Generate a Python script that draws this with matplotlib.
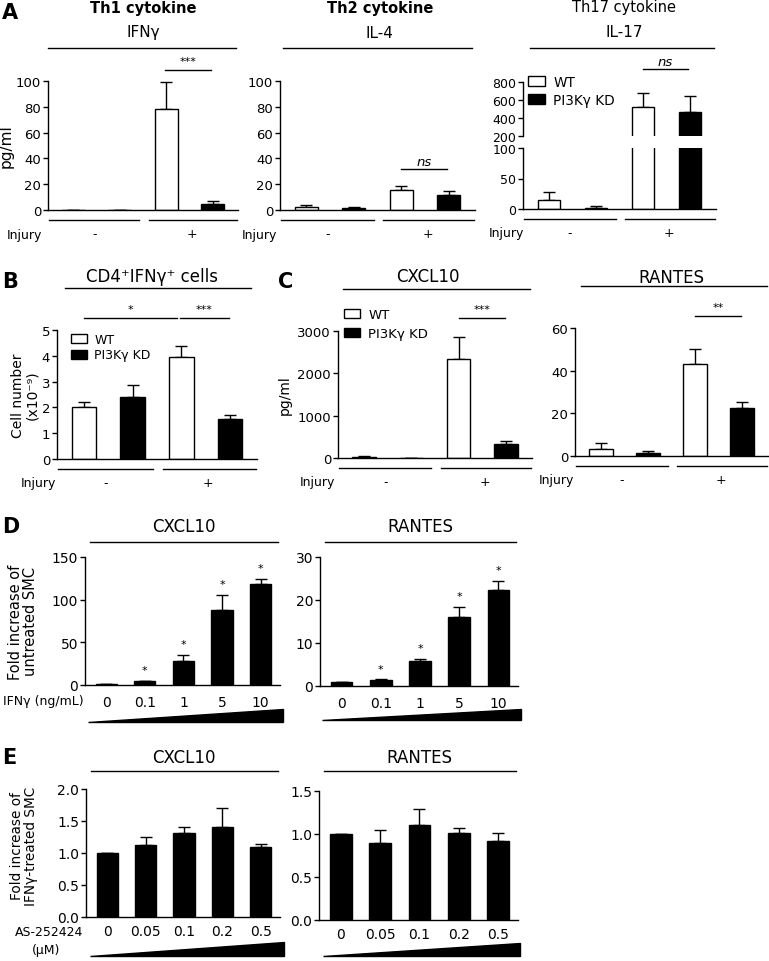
import numpy as np
import matplotlib.pyplot as plt
from matplotlib.patches import Patch
from matplotlib.transforms import blended_transform_factory

W, H = 769, 962

# ---- data (bar order: WT -, KD -, WT +, KD +) ----
bar_colors = ["white", "black", "white", "black"]
ifng_mean = [0, 0, 78, 4.5]
ifng_err = [0, 0, 21, 2.5]
il4_mean = [2, 1.2, 15.7, 11.6]
il4_err = [2, 1.5, 3.1, 3.4]
il17_mean = [14, 2, 524, 470]
il17_err = [14, 3.3, 153, 170]
cd4_mean = [2.0, 2.39, 3.94, 1.55]
cd4_err = [0.22, 0.48, 0.45, 0.17]
cxcl10_mean = [30, 5, 2336, 330]
cxcl10_err = [15, 3, 520, 70]
rantes_mean = [3.1, 1.6, 43.2, 22.7]
rantes_err = [3.1, 0.7, 6.8, 2.8]

# IFNg dose response (D)
ifn_doses = ["0", "0.1", "1", "5", "10"]
d_cxcl10 = [1, 4.5, 28.5, 88, 118]
d_cxcl10_err = [0, 0.7, 7, 17.5, 6.5]
d_rantes = [1, 1.4, 5.8, 16, 22.3]
d_rantes_err = [0, 0.15, 0.5, 2.4, 2.2]
d_signif = [False, True, True, True, True]

# AS-252424 dose response (E)
as_doses = ["0", "0.05", "0.1", "0.2", "0.5"]
e_cxcl10 = [1.0, 1.125, 1.31, 1.40, 1.10]
e_cxcl10_err = [0, 0.125, 0.09, 0.30, 0.04]
e_rantes = [1.0, 0.90, 1.11, 1.01, 0.92]
e_rantes_err = [0, 0.15, 0.18, 0.06, 0.09]

fig = plt.figure(figsize=(W / 100, H / 100), dpi=100)


def add_ax(l, t, r, b):
    return fig.add_axes([l / W, 1 - b / H, (r - l) / W, (b - t) / H])


def px(ax, n):
    # n pixels -> axes fraction (vertical)
    return n / (ax.get_position().height * H)


def pxw(ax, n):
    return n / (ax.get_position().width * W)


def blend(ax):
    return blended_transform_factory(ax.transData, ax.transAxes)


def style(ax, fs=9.5):
    for s in ["top", "right"]:
        ax.spines[s].set_visible(False)
    ax.spines["left"].set_linewidth(1)
    ax.spines["bottom"].set_linewidth(1)
    ax.tick_params(axis="y", length=3.5, width=1, pad=1.5, labelsize=fs)
    ax.tick_params(axis="x", length=0)


def bars(ax, means, errs, colors, width):
    x = np.arange(len(means))
    ax.bar(x, means, width, color=colors, edgecolor="black", linewidth=1, zorder=2)
    ax.errorbar(x, means, yerr=[np.zeros(len(errs)), errs], fmt="none",
                ecolor="black", elinewidth=1, capsize=4, capthick=1, zorder=1)
    return x


def injury(ax, left_x=-1.35):
    tr = blend(ax)
    y = -px(ax, 10)
    for x0, x1 in [(-0.52, 1.42), (1.62, 3.52)]:
        ax.plot([x0, x1], [y, y], color="black", lw=1, transform=tr, clip_on=False)
    yl = -px(ax, 24)
    ax.text(left_x, yl, "Injury", transform=tr, ha="left", va="center", fontsize=9)
    ax.text(0.45, yl, "-", transform=tr, ha="center", va="center", fontsize=9)
    ax.text(2.55, yl, "+", transform=tr, ha="center", va="center", fontsize=9)


def top_text(ax, x, dy, s, **kw):
    ax.text(x, 1 + px(ax, dy), s, transform=blend(ax), ha="center", va="center", **kw)


def top_line(ax, x0, x1, dy):
    y = 1 + px(ax, dy)
    ax.plot([x0, x1], [y, y], color="black", lw=1, transform=blend(ax), clip_on=False)


def sig(ax, x0, x1, y, label, ns=False):
    ax.plot([x0, x1], [y, y], color="black", lw=1, clip_on=False)
    if ns:
        ax.annotate(label, ((x0 + x1) / 2, y), xytext=(0, 3), textcoords="offset points",
                    ha="center", va="baseline", fontsize=9.5, style="italic",
                    annotation_clip=False)
    else:
        ax.annotate(label, ((x0 + x1) / 2, y), xytext=(0, 4.5), textcoords="offset points",
                    ha="center", va="baseline", fontsize=8, annotation_clip=False)


def legend(ax, x, y, fs, spacing):
    handles = [Patch(facecolor="white", edgecolor="black", linewidth=1, label="WT"),
               Patch(facecolor="black", edgecolor="black", linewidth=1, label="PI3K\u03b3 KD")]
    ax.legend(handles=handles, loc="upper left", bbox_to_anchor=(x, y), frameon=False,
              fontsize=fs, borderpad=0, borderaxespad=0, handlelength=1.25,
              handleheight=0.75, handletextpad=0.6, labelspacing=spacing)


def wedge(ax, x0, x1, dy_bot, dy_top):
    yb, yt = -px(ax, dy_bot), -px(ax, dy_top)
    ax.fill([x0, x1, x1], [yb, yb, yt], color="black", transform=blend(ax), clip_on=False)


# ================= A =================
ax = add_ax(48, 82, 238, 211)
style(ax)
bars(ax, ifng_mean, ifng_err, bar_colors, 0.5)
ax.set_xlim(-0.55, 3.55)
ax.set_ylim(0, 100)
ax.set_yticks(range(0, 101, 20))
ax.set_xticks([])
ax.set_ylabel("pg/ml", fontsize=11)
ax.yaxis.set_label_coords(-pxw(ax, 34), 0.5)
injury(ax, -1.44)
top_line(ax, -0.55, 3.5, 33)
top_text(ax, 1.5, 49, "IFN\u03b3", fontsize=11)
top_text(ax, 1.5, 74, "Th1 cytokine", fontsize=10.5, fontweight="bold")
sig(ax, 1.98, 2.97, 108.5, "***")

ax = add_ax(280, 82, 475, 211)
style(ax)
bars(ax, il4_mean, il4_err, bar_colors, 0.48)
ax.set_xlim(-0.55, 3.55)
ax.set_ylim(0, 100)
ax.set_yticks(range(0, 101, 20))
ax.set_xticks([])
injury(ax)
top_line(ax, -0.48, 3.48, 33)
top_text(ax, 1.55, 49, "IL-4", fontsize=11)
top_text(ax, 1.55, 74, "Th2 cytokine", fontsize=10.5, fontweight="bold")
sig(ax, 2.0, 2.96, 31.8, "ns", ns=True)

# IL-17 with broken y axis
ax_top = add_ax(523, 83, 716, 137)
ax_bot = add_ax(523, 149, 716, 210)
for a in (ax_top, ax_bot):
    style(a, fs=9)
    bars(a, il17_mean, il17_err, bar_colors, 0.48)
    a.set_xlim(-0.55, 3.55)
    a.set_xticks([])
ax_top.set_ylim(200, 800)
ax_top.set_yticks([200, 400, 600, 800])
ax_top.spines["bottom"].set_visible(False)
ax_bot.set_ylim(0, 100)
ax_bot.set_yticks([0, 50, 100])
injury(ax_bot, -1.27)
top_line(ax_top, -0.4, 3.5, 34)
top_text(ax_top, 1.6, 50, "IL-17", fontsize=11)
top_text(ax_top, 1.6, 75, "Th17 cytokine", fontsize=10.5)
sig(ax_top, 2.0, 2.96, 939, "ns", ns=True)
legend(ax_top, pxw(ax_top, 5), 1 + px(ax_top, 7), 9.8, 0.3)

# ================= B =================
ax = add_ax(57, 331, 257, 460)
style(ax)
bars(ax, cd4_mean, cd4_err, bar_colors, 0.5)
ax.set_xlim(-0.55, 3.55)
ax.set_ylim(0, 5)
ax.set_yticks(range(0, 6))
ax.set_xticks([])
ax.set_ylabel("Cell number\n(x10\u207b\u2079)", fontsize=10, linespacing=1.0)
ax.yaxis.set_label_coords(-pxw(ax, 18), 0.5)
injury(ax, -1.29)
top_line(ax, -0.39, 3.42, 42)
top_text(ax, 1.4, 54, "CD4\u207aIFN\u03b3\u207a cells", fontsize=12)
sig(ax, 0.0, 1.9, 5.46, "*")
sig(ax, 1.98, 2.97, 5.46, "***")
legend(ax, pxw(ax, 14), 1 - px(ax, 3), 9, 0.2)

# ================= C =================
ax = add_ax(338, 332, 532, 459)
style(ax)
bars(ax, cxcl10_mean, cxcl10_err, bar_colors, 0.5)
ax.set_xlim(-0.55, 3.55)
ax.set_ylim(0, 3000)
ax.set_yticks([0, 1000, 2000, 3000])
ax.set_xticks([])
ax.set_ylabel("pg/ml", fontsize=10)
ax.yaxis.set_label_coords(-pxw(ax, 46), 0.5)
injury(ax)
top_line(ax, -0.44, 3.5, 42)
top_text(ax, 1.35, 55, "CXCL10", fontsize=12)
sig(ax, 2.0, 2.97, 3304, "***")
legend(ax, pxw(ax, 6), 1 + px(ax, 23), 9.5, 0.45)

ax = add_ax(575, 329, 768, 457)
style(ax)
bars(ax, rantes_mean, rantes_err, bar_colors, 0.5)
ax.set_xlim(-0.55, 3.55)
ax.set_ylim(0, 60)
ax.set_yticks([0, 20, 40, 60])
ax.set_xticks([])
injury(ax, -1.32)
top_line(ax, -0.43, 3.52, 42)
top_text(ax, 1.5, 51, "RANTES", fontsize=12)
sig(ax, 2.0, 2.97, 65.6, "**")


# ================= D / E =================
def dose_panel(box, means, errs, ymax, step, labels, title, wedge_box, tick_pad,
               stars=None, title_dy=(15, 31)):
    ax = add_ax(*box)
    style(ax, fs=10)
    x = bars(ax, means, errs, "black", 0.55)
    ax.set_xlim(-0.55, 4.5)
    ax.set_ylim(0, ymax)
    ax.set_yticks(np.arange(0, ymax + step / 2, step))
    ax.set_xticks(x)
    ax.set_xticklabels(labels, fontsize=10)
    ax.tick_params(axis="x", pad=tick_pad)
    if stars is not None:
        for xi, m, e, s in zip(x, means, errs, stars):
            if s:
                ax.annotate("*", (xi, m + e), xytext=(0, 5.5), textcoords="offset points",
                            ha="center", va="baseline", fontsize=8, annotation_clip=False)
    top_line(ax, -0.42, 4.46, title_dy[0])
    top_text(ax, 2.0, title_dy[1], title, fontsize=12)
    wedge(ax, *wedge_box)
    return ax


ax = dose_panel((85, 558, 280, 686), d_cxcl10, d_cxcl10_err, 150, 50, ifn_doses,
                "CXCL10", (-0.47, 4.59, 37, 24), 7.5, stars=d_signif)
ax.yaxis.set_major_formatter(plt.FormatStrFormatter("%d"))
ax.set_ylabel("Fold increase of\nuntreated SMC", fontsize=10.5, linespacing=1.0)
ax.yaxis.set_label_coords(-pxw(ax, 47), 0.5)
ax.text(-0.58, -px(ax, 16), "IFN\u03b3 (ng/mL)", transform=blend(ax), ha="right",
        va="center", fontsize=9)

ax = dose_panel((320, 558, 518, 687), d_rantes, d_rantes_err, 30, 10, ifn_doses,
                "RANTES", (-0.51, 4.58, 34, 23), 7.5, stars=d_signif)
ax.yaxis.set_major_formatter(plt.FormatStrFormatter("%d"))

ax = dose_panel((86, 790, 280, 918), e_cxcl10, e_cxcl10_err, 2.0, 0.5, as_doses,
                "CXCL10", (-0.44, 4.6, 39, 25), 5, title_dy=(18, 32))
ax.yaxis.set_major_formatter(plt.FormatStrFormatter("%.1f"))
ax.set_ylabel("Fold increase of\nIFN\u03b3-treated SMC", fontsize=9.8, linespacing=1.0)
ax.yaxis.set_label_coords(-pxw(ax, 48), 0.56)
ax.text(-0.63, -px(ax, 15), "AS-252424", transform=blend(ax), ha="right",
        va="center", fontsize=9)
ax.text(-1.59, -px(ax, 33), "(\u03bcM)", transform=blend(ax), ha="center",
        va="center", fontsize=9)

ax = dose_panel((319, 792, 518, 921), e_rantes, e_rantes_err, 1.5, 0.5, as_doses,
                "RANTES", (-0.45, 4.55, 36, 23), 5, title_dy=(20, 34))
ax.yaxis.set_major_formatter(plt.FormatStrFormatter("%.1f"))

# panel letters
for letter, lx, ly in [("A", 2, 13), ("B", 2, 282), ("C", 278, 282), ("D", 2, 527), ("E", 2, 758)]:
    fig.text(lx / W, 1 - ly / H, letter, fontsize=15, fontweight="bold", ha="left", va="center")

fig.savefig("out.png", dpi=100)
